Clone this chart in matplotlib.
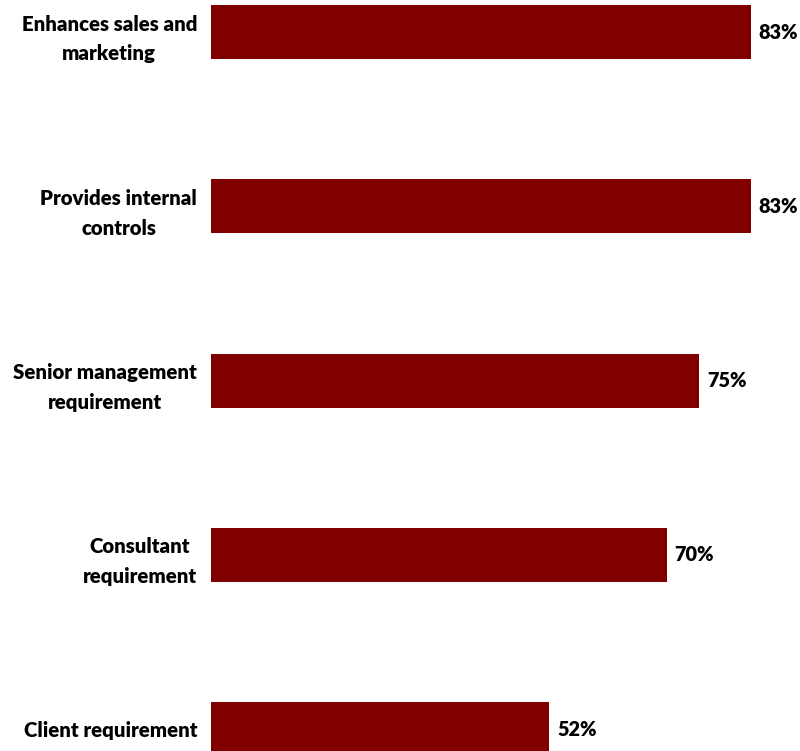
import matplotlib
matplotlib.use("Agg")
from matplotlib import pyplot as plt

categories = ["Enhances sales and\nmarketing",
              "Provides internal\ncontrols",
              "Senior management\nrequirement",
              "Consultant\nrequirement",
              "Client requirement"]
shares = [83, 83, 75, 70, 52]

plt.rcParams['font.family'] = ['Lato', 'DejaVu Sans']

fig = plt.figure(figsize=(8.0, 7.51), dpi=100)
ax = fig.add_axes([211 / 800, 0, 1 - 211 / 800, 1])

pos = list(range(len(categories)))
ax.barh(pos, shares, height=0.31, color='#800000')
for y, v in zip(pos, shares):
    ax.annotate(f"{v}%", (v, y), xytext=(5.5, 0), textcoords='offset points',
                ha='left', va='center', fontsize=14.3, fontweight='heavy', color='#000000')

ax.set_xlim(0, 90.5)
ax.set_ylim(4.126, -0.184)
ax.set_yticks(pos)
ax.set_yticklabels(categories, fontsize=14.7, fontweight='heavy', multialignment='center',
                   linespacing=1.68)
ax.tick_params(axis='y', length=0, pad=10)
ax.set_xticks([])
for s in ax.spines.values():
    s.set_visible(False)

fig.savefig("out.png", dpi=100)
